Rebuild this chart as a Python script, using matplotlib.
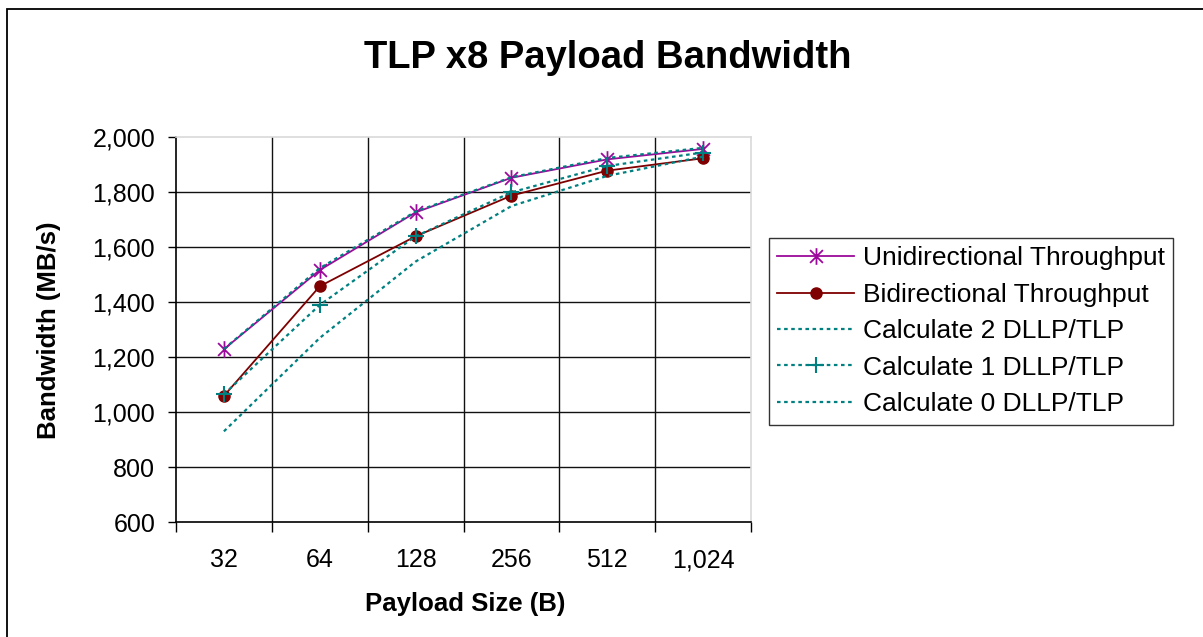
import matplotlib
matplotlib.use("Agg")
import matplotlib.pyplot as plt
from matplotlib.path import Path
from matplotlib.patches import Rectangle
from matplotlib.ticker import FuncFormatter, FixedLocator

plt.rcParams['font.family'] = ['Liberation Sans', 'DejaVu Sans']

categories = ["32", "64", "128", "256", "512", "1,024"]
uni = [1229, 1517, 1727, 1853, 1920, 1958]
bi = [1059, 1458, 1640, 1788, 1879, 1924]
calc2 = [930, 1270, 1548, 1750, 1860, 1930]
calc1 = [1065, 1390, 1640, 1800, 1896, 1945]
calc0 = [1230, 1524, 1730, 1855, 1925, 1962]
yticks = [600, 800, 1000, 1200, 1400, 1600, 1800, 2000]

W, H = 1203, 637
fig = plt.figure(figsize=(W / 100, H / 100), dpi=100)
ax = fig.add_axes([176 / W, 1 - 522 / H, 575 / W, (522 - 137.4) / H])

x = list(range(len(categories)))

# asterisk marker (X + vertical line)
star = Path([(-1, -1), (1, 1), (-1, 1), (1, -1), (0, -1.3), (0, 1.3)],
            [Path.MOVETO, Path.LINETO, Path.MOVETO, Path.LINETO, Path.MOVETO, Path.LINETO])

purple = '#9B0A9B'
dred = '#7F0000'
teal = '#008080'
dots = (0, (1.6, 1.6))

ax.plot(x, uni, color=purple, lw=1.3, marker=star, ms=12, mew=1.3,
        mec=purple, mfc='none', label='Unidirectional Throughput', zorder=4)
ax.plot(x, bi, color=dred, lw=1.3, marker='o', ms=8, mfc=dred, mec=dred,
        label='Bidirectional Throughput', zorder=4)
ax.plot(x, calc2, color=teal, lw=1.6, ls=dots, label='Calculate 2 DLLP/TLP', zorder=5)
ax.plot(x, calc1, color=teal, lw=1.6, ls=dots, marker='+', ms=12, mew=1.5,
        label='Calculate 1 DLLP/TLP', zorder=5)
ax.plot(x, calc0, color=teal, lw=1.6, ls=dots, label='Calculate 0 DLLP/TLP', zorder=5)

ax.set_xlim(-0.5, len(categories) - 0.5)
ax.set_ylim(600, 2000)
ax.set_yticks(yticks)
ax.yaxis.set_major_formatter(FuncFormatter(lambda v, p: f"{int(v):,}"))
ax.set_xticks(x)
ax.set_xticklabels(categories)
ax.xaxis.set_minor_locator(FixedLocator([i + 0.5 for i in range(-1, len(categories))]))
ax.tick_params(axis='x', which='major', length=0, pad=19, labelsize=18)
ax.tick_params(axis='x', which='minor', length=7, width=1, color='black', direction='out')
ax.tick_params(axis='y', which='major', length=6, width=1, direction='out', pad=9, labelsize=18)

for v in yticks[1:-1]:
    ax.axhline(v, color='#111111', lw=1.0, zorder=1)
for i in range(len(categories) - 1):
    ax.axvline(i + 0.5, color='#111111', lw=1.0, zorder=1)

ax.spines['left'].set_color('black')
ax.spines['bottom'].set_color('black')
ax.spines['top'].set_color('#d9d9d9')
ax.spines['right'].set_color('#d9d9d9')
for s in ax.spines.values():
    s.set_linewidth(1.2)

ax.set_xlabel('Payload Size (B)', fontsize=18.5, fontweight='bold')
ax.set_ylabel('Bandwidth (MB/s)', fontsize=18.5, fontweight='bold')
ax.xaxis.set_label_coords((465 - 176) / 575, (522 - 604) / 384.6)
ax.yaxis.set_label_coords((49 - 176) / 575, (522 - 330) / 384.6)
ax.xaxis.label.set_va('center')
ax.yaxis.label.set_va('center')
ax.yaxis.label.set_ha('center')

fig.text(608 / W, 1 - 68.3 / H, 'TLP x8 Payload Bandwidth', ha='center', va='baseline',
         fontsize=27.5, fontweight='bold')

leg = fig.legend(loc='upper left', bbox_to_anchor=(769 / W, 1 - 238 / H),
                 fontsize=19, frameon=True, fancybox=False, handlelength=2.9,
                 labelspacing=0.47, borderpad=0.32, handletextpad=0.34, borderaxespad=0)
leg.get_frame().set_edgecolor('black')
leg.get_frame().set_linewidth(1.0)

fig.patches.append(Rectangle((7 / W, -0.2), 1.2, 1.2 - 9 / H,
                             transform=fig.transFigure, fill=False, edgecolor='black',
                             lw=1.3, clip_on=False))

fig.savefig('out.png', dpi=100)
